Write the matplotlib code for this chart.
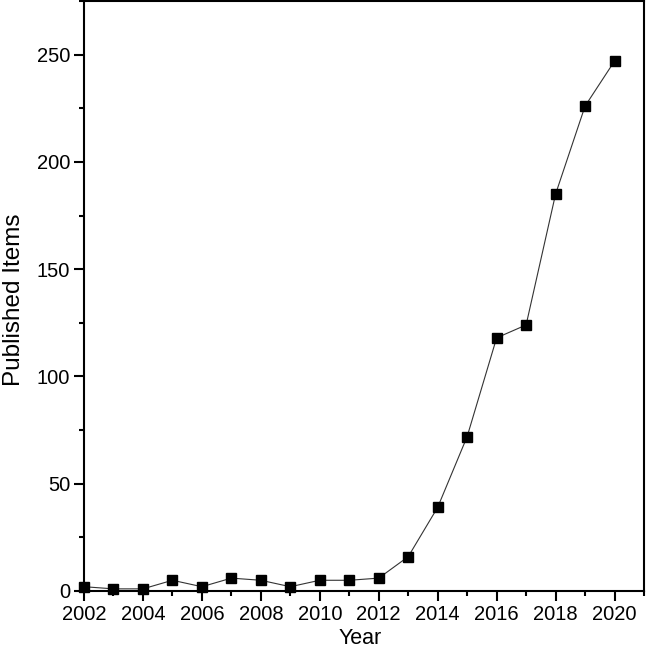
import matplotlib
matplotlib.use("Agg")
import matplotlib.pyplot as plt
from matplotlib.ticker import MultipleLocator

years = [2002, 2003, 2004, 2005, 2006, 2007, 2008, 2009, 2010, 2011,
         2012, 2013, 2014, 2015, 2016, 2017, 2018, 2019, 2020]
items = [2, 1, 1, 5, 2, 6, 5, 2, 5, 5,
         6, 16, 39, 72, 118, 124, 185, 226, 247]

plt.rcParams['font.family'] = ['Liberation Sans', 'DejaVu Sans']

fig = plt.figure(figsize=(6.46, 6.55), dpi=100)
ax = fig.add_axes([84/646, 64/655, 560/646, 590/655])

ax.plot(years, items, color='#333333', lw=0.8, marker='s', ms=7.5,
        mfc='black', mec='black', clip_on=False, zorder=3)

ax.set_xlim(2002, 2021)
ax.set_ylim(0, 275)
ax.xaxis.set_major_locator(MultipleLocator(2))
ax.xaxis.set_minor_locator(MultipleLocator(1))
ax.yaxis.set_major_locator(MultipleLocator(50))
ax.yaxis.set_minor_locator(MultipleLocator(25))

for s in ax.spines.values():
    s.set_linewidth(1.5)
ax.tick_params(which='both', direction='out', top=False, right=False,
               width=1.5, labelsize=14.5, pad=3)
ax.tick_params(which='major', length=7)
ax.tick_params(which='minor', length=3.5)

ax.set_xlabel("Year", fontsize=15.5)
ax.set_ylabel("Published Items", fontsize=17.5)
ax.yaxis.set_label_coords(-0.106, 0.493)
ax.xaxis.set_label_coords(0.493, -0.062)

fig.savefig("out.png", dpi=100)
